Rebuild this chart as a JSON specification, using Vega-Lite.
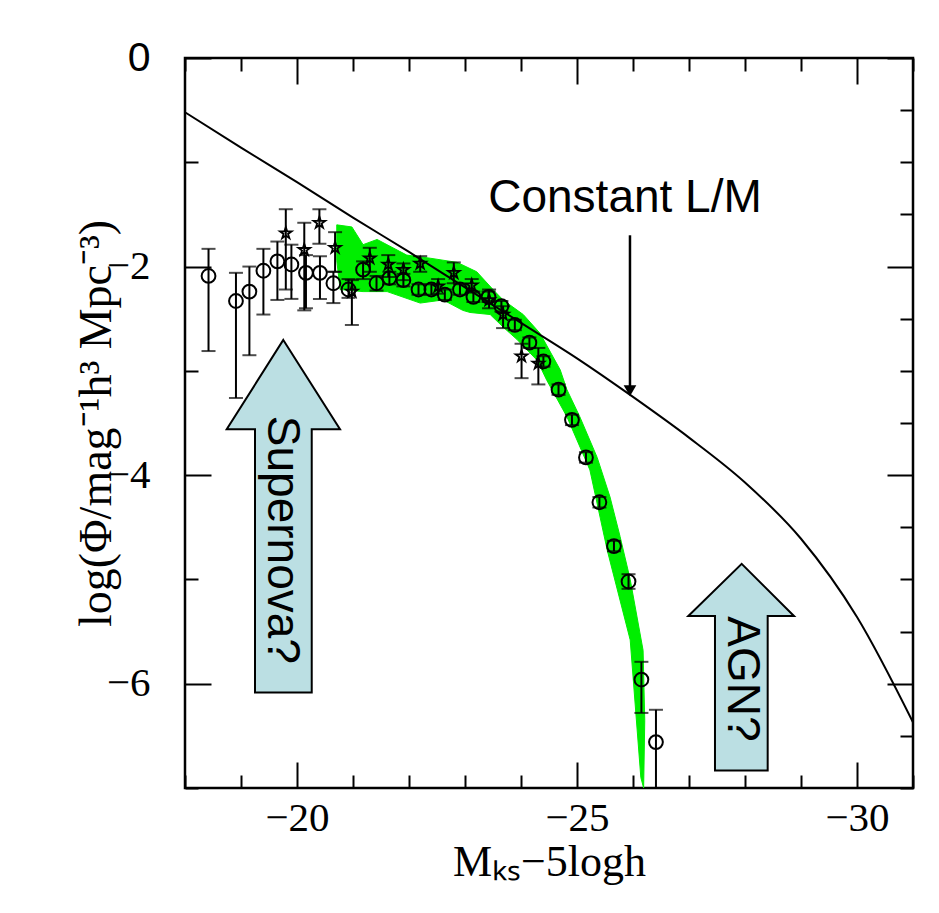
{
"$schema":"https://vega.github.io/schema/vega-lite/v6.json",
"width":728,"height":730,
"autosize":{"type":"none"},
"padding":{"left":185,"top":58,"right":26,"bottom":125},
"background":"white",
"config":{"view":{"stroke":"black","strokeWidth":2.5},
"axis":{"domain":false,"grid":false,"tickColor":"black","tickWidth":2,"labelColor":"black","titleColor":"black","labelFont":"Liberation Serif","titleFont":"Liberation Serif","labelFontSize":41,"titleFontSize":44,"titleFontWeight":"normal","labelOverlap":false,"labelFlush":false}},
"datasets":{
"green":[
{"i":1,"M":-20.71,"L":-1.60},{"i":2,"M":-20.98,"L":-1.62},{"i":3,"M":-21.18,"L":-1.79},{"i":4,"M":-21.43,"L":-1.74},{"i":5,"M":-21.96,"L":-1.89},{"i":6,"M":-22.38,"L":-1.92},{"i":7,"M":-22.86,"L":-1.96},{"i":8,"M":-23.21,"L":-2.05},{"i":9,"M":-23.50,"L":-2.22},{"i":10,"M":-23.68,"L":-2.32},{"i":11,"M":-24.04,"L":-2.46},{"i":12,"M":-24.34,"L":-2.64},{"i":13,"M":-24.70,"L":-2.99},{"i":14,"M":-24.82,"L":-3.18},{"i":15,"M":-25.05,"L":-3.44},{"i":16,"M":-25.36,"L":-3.83},{"i":17,"M":-25.59,"L":-4.21},{"i":18,"M":-25.77,"L":-4.59},{"i":19,"M":-25.95,"L":-5.00},{"i":20,"M":-26.18,"L":-5.68},{"i":21,"M":-26.21,"L":-6.35},{"i":22,"M":-26.19,"L":-7.0},{"i":23,"M":-26.14,"L":-6.9},{"i":24,"M":-25.95,"L":-5.58},{"i":25,"M":-25.54,"L":-4.72},{"i":26,"M":-25.23,"L":-3.95},{"i":27,"M":-24.82,"L":-3.44},{"i":28,"M":-24.46,"L":-3.09},{"i":29,"M":-24.29,"L":-2.90},{"i":30,"M":-23.93,"L":-2.70},{"i":31,"M":-23.68,"L":-2.58},{"i":32,"M":-23.45,"L":-2.46},{"i":33,"M":-23.09,"L":-2.44},{"i":34,"M":-22.96,"L":-2.42},{"i":35,"M":-22.61,"L":-2.32},{"i":36,"M":-22.20,"L":-2.35},{"i":37,"M":-21.61,"L":-2.24},{"i":38,"M":-21.18,"L":-2.24},{"i":39,"M":-20.77,"L":-2.22},{"i":40,"M":-20.71,"L":-1.94}],
"pts":[
{"kind":"c","M":-18.42,"L":-2.09,"lo":-1.83,"hi":-2.81},
{"kind":"c","M":-18.91,"L":-2.33,"lo":-2.06,"hi":-3.26},
{"kind":"c","M":-19.15,"L":-2.24,"lo":-2.00,"hi":-2.85},
{"kind":"c","M":-19.40,"L":-2.04,"lo":-1.83,"hi":-2.46},
{"kind":"c","M":-19.65,"L":-1.95,"lo":-1.76,"hi":-2.32},
{"kind":"c","M":-19.90,"L":-1.98,"lo":-1.79,"hi":-2.31},
{"kind":"c","M":-20.16,"L":-2.06,"lo":-1.89,"hi":-2.40},
{"kind":"c","M":-20.41,"L":-2.06,"lo":-1.90,"hi":-2.31},
{"kind":"c","M":-20.65,"L":-2.16,"lo":-2.05,"hi":-2.35},
{"kind":"c","M":-20.92,"L":-2.22,"lo":-2.12,"hi":-2.30},
{"kind":"c","M":-21.18,"L":-2.03,"lo":-1.95,"hi":-2.12},
{"kind":"c","M":-21.42,"L":-2.16,"lo":-2.09,"hi":-2.23},
{"kind":"c","M":-21.65,"L":-2.11,"lo":-2.05,"hi":-2.17},
{"kind":"c","M":-21.90,"L":-2.13,"lo":-2.07,"hi":-2.19},
{"kind":"c","M":-22.17,"L":-2.22,"lo":-2.17,"hi":-2.27},
{"kind":"c","M":-22.40,"L":-2.22,"lo":-2.17,"hi":-2.27},
{"kind":"c","M":-22.64,"L":-2.27,"lo":-2.22,"hi":-2.32},
{"kind":"c","M":-22.91,"L":-2.22,"lo":-2.17,"hi":-2.27},
{"kind":"c","M":-23.15,"L":-2.29,"lo":-2.24,"hi":-2.34},
{"kind":"c","M":-23.42,"L":-2.29,"lo":-2.24,"hi":-2.34},
{"kind":"c","M":-23.65,"L":-2.38,"lo":-2.33,"hi":-2.43},
{"kind":"c","M":-23.89,"L":-2.56,"lo":-2.51,"hi":-2.61},
{"kind":"c","M":-24.15,"L":-2.73,"lo":-2.68,"hi":-2.78},
{"kind":"c","M":-24.40,"L":-2.91,"lo":-2.86,"hi":-2.96},
{"kind":"c","M":-24.67,"L":-3.18,"lo":-3.13,"hi":-3.23},
{"kind":"c","M":-24.91,"L":-3.47,"lo":-3.42,"hi":-3.52},
{"kind":"c","M":-25.16,"L":-3.83,"lo":-3.78,"hi":-3.88},
{"kind":"c","M":-25.40,"L":-4.26,"lo":-4.21,"hi":-4.31},
{"kind":"c","M":-25.66,"L":-4.68,"lo":-4.63,"hi":-4.73},
{"kind":"c","M":-25.92,"L":-5.02,"lo":-4.95,"hi":-5.09},
{"kind":"c","M":-26.15,"L":-5.96,"lo":-5.79,"hi":-6.28},
{"kind":"c","M":-26.41,"L":-6.56,"lo":-6.25,"hi":-7.0},
{"kind":"s","M":-19.80,"L":-1.68,"lo":-1.45,"hi":-2.22},
{"kind":"s","M":-20.13,"L":-1.84,"lo":-1.58,"hi":-2.42},
{"kind":"s","M":-20.40,"L":-1.58,"lo":-1.45,"hi":-1.78},
{"kind":"s","M":-20.68,"L":-1.82,"lo":-1.67,"hi":-2.05},
{"kind":"s","M":-20.98,"L":-2.24,"lo":-2.13,"hi":-2.56},
{"kind":"s","M":-21.30,"L":-1.92,"lo":-1.82,"hi":-2.05},
{"kind":"s","M":-21.63,"L":-1.98,"lo":-1.89,"hi":-2.10},
{"kind":"s","M":-21.90,"L":-2.03,"lo":-1.97,"hi":-2.13},
{"kind":"s","M":-22.20,"L":-1.97,"lo":-1.90,"hi":-2.05},
{"kind":"s","M":-22.52,"L":-2.19,"lo":-2.12,"hi":-2.26},
{"kind":"s","M":-22.80,"L":-2.06,"lo":-1.96,"hi":-2.16},
{"kind":"s","M":-23.12,"L":-2.18,"lo":-2.12,"hi":-2.25},
{"kind":"s","M":-23.43,"L":-2.32,"lo":-2.22,"hi":-2.40},
{"kind":"s","M":-23.68,"L":-2.46,"lo":-2.38,"hi":-2.59},
{"kind":"s","M":-24.01,"L":-2.86,"lo":-2.74,"hi":-3.07},
{"kind":"s","M":-24.31,"L":-2.93,"lo":-2.78,"hi":-3.13}],
"lm":[
{"M":-18,"L":-0.52},{"M":-19,"L":-0.86},{"M":-20,"L":-1.19},{"M":-21,"L":-1.53},{"M":-22,"L":-1.86},{"M":-23,"L":-2.20},{"M":-24,"L":-2.54},{"M":-25,"L":-2.88},{"M":-26,"L":-3.25},{"M":-27,"L":-3.64},{"M":-28,"L":-4.07},{"M":-29,"L":-4.61},{"M":-30,"L":-5.36},{"M":-31,"L":-6.37}],
"arrows":[
{"g":"sn","i":1,"M":-19.755,"L":-2.704},{"g":"sn","i":2,"M":-20.768,"L":-3.560},{"g":"sn","i":3,"M":-20.263,"L":-3.560},{"g":"sn","i":4,"M":-20.263,"L":-6.085},{"g":"sn","i":5,"M":-19.25,"L":-6.085},{"g":"sn","i":6,"M":-19.25,"L":-3.560},{"g":"sn","i":7,"M":-18.745,"L":-3.560},
{"g":"agn","i":1,"M":-27.941,"L":-4.851},{"g":"agn","i":2,"M":-28.875,"L":-5.350},{"g":"agn","i":3,"M":-28.405,"L":-5.350},{"g":"agn","i":4,"M":-28.405,"L":-6.833},{"g":"agn","i":5,"M":-27.464,"L":-6.833},{"g":"agn","i":6,"M":-27.464,"L":-5.350},{"g":"agn","i":7,"M":-26.988,"L":-5.350}],
"pointer":[{"M":-25.946,"L1":-1.70,"L2":-3.15,"tip":-3.19}],
"hnotes":[{"M":-25.857,"L":-1.342,"text":"Constant L/M"}],
"vnotes":[{"M":-19.727,"L":-4.621,"text":"Supernova?"},{"M":-27.941,"L":-5.954,"text":"AGN?"}]
},
"resolve":{"axis":{"x":"independent","y":"independent"}},
"layer":[
{"layer":[
{"data":{"name":"green"},
 "mark":{"type":"line","interpolate":"linear-closed","fill":"#00ee00","stroke":"#00ee00","strokeWidth":1},
 "encoding":{
  "x":{"field":"M","type":"quantitative","scale":{"domain":[-18,-31],"nice":false,"zero":false},
   "axis":{"orient":"bottom","values":[-18,-19,-20,-21,-22,-23,-24,-25,-26,-27,-28,-29,-30,-31],"format":"d",
    "tickSize":{"condition":{"test":"datum.value % 5 == 0","value":-26},"value":-13},
    "labelExpr":"datum.value % 5 == 0 ? datum.label : ''","labelPadding":36,
    "title":"Mₖₛ−5logh","titlePadding":-11}},
  "y":{"field":"L","type":"quantitative","scale":{"domain":[-7,0],"nice":false,"zero":false},
   "axis":{"orient":"left","values":[0,-0.5,-1,-1.5,-2,-2.5,-3,-3.5,-4,-4.5,-5,-5.5,-6,-6.5,-7],"format":"d",
    "tickSize":{"condition":{"test":"datum.value % 2 == 0","value":-26},"value":-13},
    "labelExpr":"datum.value % 2 == 0 ? datum.label : ''","labelPadding":61,
    "labelFont":{"condition":{"test":"datum.value == 0","value":"Liberation Sans"},"value":"Liberation Serif"},
    "title":"log(Φ/mag⁻¹h³ Mpc⁻³)","titleFontSize":46,"titlePadding":-14}},
  "order":{"field":"i","type":"quantitative"}}},
{"data":{"name":"lm"},
 "mark":{"type":"line","color":"black","strokeWidth":2,"interpolate":"monotone"},
 "encoding":{"x":{"field":"M","type":"quantitative","scale":{"domain":[-18,-31],"nice":false,"zero":false}},
  "y":{"field":"L","type":"quantitative","scale":{"domain":[-7,0],"nice":false,"zero":false}}}},
{"data":{"name":"pts"},
 "mark":{"type":"rule","color":"black","strokeWidth":2},
 "encoding":{"x":{"field":"M","type":"quantitative","scale":{"domain":[-18,-31],"nice":false,"zero":false}},
  "y":{"field":"lo","type":"quantitative","scale":{"domain":[-7,0],"nice":false,"zero":false}},"y2":{"field":"hi"}}},
{"data":{"name":"pts"},
 "mark":{"type":"tick","orient":"horizontal","size":14,"thickness":2,"color":"black"},
 "encoding":{"x":{"field":"M","type":"quantitative","scale":{"domain":[-18,-31],"nice":false,"zero":false}},
  "y":{"field":"lo","type":"quantitative","scale":{"domain":[-7,0],"nice":false,"zero":false}}}},
{"data":{"name":"pts"},
 "mark":{"type":"tick","orient":"horizontal","size":14,"thickness":2,"color":"black"},
 "encoding":{"x":{"field":"M","type":"quantitative","scale":{"domain":[-18,-31],"nice":false,"zero":false}},
  "y":{"field":"hi","type":"quantitative","scale":{"domain":[-7,0],"nice":false,"zero":false}}}},
{"data":{"name":"pts"},
 "transform":[{"filter":"datum.kind == 'c'"}],
 "mark":{"type":"point","shape":"circle","size":190,"filled":false,"stroke":"black","strokeWidth":2,"opacity":1},
 "encoding":{"x":{"field":"M","type":"quantitative","scale":{"domain":[-18,-31],"nice":false,"zero":false}},
  "y":{"field":"L","type":"quantitative","scale":{"domain":[-7,0],"nice":false,"zero":false}}}},
{"data":{"name":"pts"},
 "transform":[{"filter":"datum.kind == 's'"}],
 "mark":{"type":"point","shape":"M0,-1L0.2245,-0.309L0.951,-0.309L0.363,0.118L0.588,0.809L0,0.382L-0.588,0.809L-0.363,0.118L-0.951,-0.309L-0.2245,-0.309Z","size":150,"filled":false,"stroke":"black","strokeWidth":1.8,"opacity":1},
 "encoding":{"x":{"field":"M","type":"quantitative","scale":{"domain":[-18,-31],"nice":false,"zero":false}},
  "y":{"field":"L","type":"quantitative","scale":{"domain":[-7,0],"nice":false,"zero":false}}}},
{"data":{"name":"arrows"},
 "mark":{"type":"line","interpolate":"linear-closed","fill":"#bbdfe3","stroke":"black","strokeWidth":2},
 "encoding":{"x":{"field":"M","type":"quantitative","scale":{"domain":[-18,-31],"nice":false,"zero":false}},
  "y":{"field":"L","type":"quantitative","scale":{"domain":[-7,0],"nice":false,"zero":false}},
  "detail":{"field":"g","type":"nominal"},"order":{"field":"i","type":"quantitative"}}},
{"data":{"name":"pointer"},
 "mark":{"type":"rule","color":"black","strokeWidth":2.5},
 "encoding":{"x":{"field":"M","type":"quantitative","scale":{"domain":[-18,-31],"nice":false,"zero":false}},
  "y":{"field":"L1","type":"quantitative","scale":{"domain":[-7,0],"nice":false,"zero":false}},"y2":{"field":"L2"}}},
{"data":{"name":"pointer"},
 "mark":{"type":"point","shape":"triangle-down","size":160,"filled":true,"color":"black","opacity":1},
 "encoding":{"x":{"field":"M","type":"quantitative","scale":{"domain":[-18,-31],"nice":false,"zero":false}},
  "y":{"field":"tip","type":"quantitative","scale":{"domain":[-7,0],"nice":false,"zero":false}}}},
{"data":{"name":"hnotes"},
 "mark":{"type":"text","font":"Liberation Sans","fontSize":46,"color":"black","align":"center","baseline":"middle"},
 "encoding":{"x":{"field":"M","type":"quantitative","scale":{"domain":[-18,-31],"nice":false,"zero":false}},
  "y":{"field":"L","type":"quantitative","scale":{"domain":[-7,0],"nice":false,"zero":false}},
  "text":{"field":"text"}}},
{"data":{"name":"vnotes"},
 "mark":{"type":"text","font":"Liberation Sans","fontSize":46,"color":"black","align":"center","baseline":"middle","angle":90},
 "encoding":{"x":{"field":"M","type":"quantitative","scale":{"domain":[-18,-31],"nice":false,"zero":false}},
  "y":{"field":"L","type":"quantitative","scale":{"domain":[-7,0],"nice":false,"zero":false}},
  "text":{"field":"text"}}}
]},
{"data":{"name":"lm"},
 "mark":{"type":"point","opacity":0},
 "encoding":{
  "x":{"field":"M","type":"quantitative","scale":{"domain":[-18,-31],"nice":false,"zero":false},
   "axis":{"orient":"top","values":[-18,-19,-20,-21,-22,-23,-24,-25,-26,-27,-28,-29,-30,-31],
    "tickSize":{"condition":{"test":"datum.value % 5 == 0","value":-26},"value":-13},"labels":false,"title":null}},
  "y":{"field":"L","type":"quantitative","scale":{"domain":[-7,0],"nice":false,"zero":false},
   "axis":{"orient":"right","values":[0,-0.5,-1,-1.5,-2,-2.5,-3,-3.5,-4,-4.5,-5,-5.5,-6,-6.5,-7],
    "tickSize":{"condition":{"test":"datum.value % 2 == 0","value":-26},"value":-13},"labels":false,"title":null}}}}
]
}
